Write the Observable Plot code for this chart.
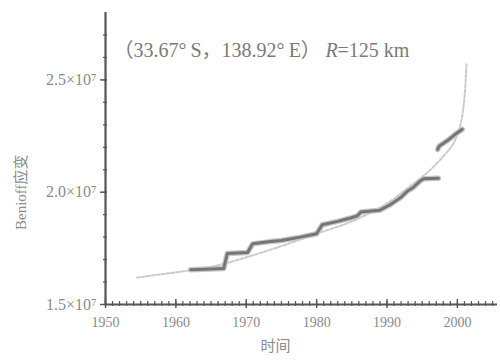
<!DOCTYPE html>
<html>
<head>
<meta charset="utf-8">
<script src="https://cdn.jsdelivr.net/npm/d3@7"></script>
<script src="https://cdn.jsdelivr.net/npm/@observablehq/plot@0.6"></script>
<style>
  html, body { margin: 0; padding: 0; background: #fff; }
  #chart svg { display: block; }
</style>
</head>
<body>
<div id="chart"></div>
<script>
// Observed cumulative Benioff strain (step-like), year / value (×10^7), segment id
const obsYears = [1962.1, 1966.8, 1967.3, 1970.2, 1970.9, 1973.4, 1975.0, 1977.7, 1980.0, 1980.8, 1983.0, 1984.8, 1985.8, 1986.3, 1989.0, 1990.5, 1991.9, 1992.9, 1993.7, 1994.7, 1995.2, 1997.3, 1997.2, 1997.4, 1998.6, 2000.0, 2000.7];
const obsValues = [1.655, 1.660, 1.727, 1.732, 1.770, 1.780, 1.785, 1.800, 1.815, 1.855, 1.870, 1.885, 1.895, 1.912, 1.920, 1.945, 1.975, 2.005, 2.020, 2.050, 2.060, 2.062, 2.190, 2.205, 2.230, 2.265, 2.280];
const obsSegment = [1, 1, 1, 1, 1, 1, 1, 1, 1, 1, 1, 1, 1, 1, 1, 1, 1, 1, 1, 1, 1, 1, 2, 2, 2, 2, 2];

// Fitted accelerating curve
const fitYears = [1954.5, 1958, 1962, 1966, 1970, 1975, 1980, 1985, 1990, 1993, 1996, 1998, 1999.5, 2000.5, 2001.0, 2001.3];
const fitValues = [1.620, 1.635, 1.652, 1.675, 1.710, 1.760, 1.815, 1.870, 1.950, 2.020, 2.095, 2.160, 2.220, 2.310, 2.420, 2.576];

const xMajor = [1950, 1960, 1970, 1980, 1990, 2000];
const xMinor = d3.range(1950, 2006, 1);
const yMajor = [1.5, 2.0, 2.5];
const yMinor = [1.5, 1.6, 1.7, 1.8, 1.9, 2.0, 2.1, 2.2, 2.3, 2.4, 2.5, 2.6, 2.7];
const yTickLabels = ["1.5×10⁷", "2.0×10⁷", "2.5×10⁷"];

const titleText = "（33.67°\u2009S，138.92°\u2009E）";
const xTitle = "时间";
const yTitle = "Benioff应变";
const yTitleAt = [{x: 1950, y: 2.0}];

const obs = obsYears.map((t, i) => ({t, v: obsValues[i], s: obsSegment[i]}));
const fit = fitYears.map((t, i) => ({t, v: fitValues[i]}));

const serif = "'Liberation Serif', 'DejaVu Serif', 'Noto Sans CJK SC', serif";
const textColor = "#8a8a8a";
const axisColor = "#555";

const chart = Plot.plot({
  width: 500,
  height: 362,
  marginLeft: 105,
  marginRight: 3,
  marginTop: 12,
  marginBottom: 58,
  style: {fontFamily: serif, background: "#fff", color: textColor},
  x: {domain: [1950, 2005.7]},
  y: {domain: [1.5, 2.8]},
  marks: [
    // minor ticks
    Plot.axisX({ticks: xMinor, tickSize: 5, dy: -3, tickFormat: () => "", label: null, stroke: axisColor, strokeWidth: 1.2}),
    Plot.axisX({ticks: xMajor, tickSize: 9, dy: -5, tickFormat: () => "", label: null, stroke: axisColor, strokeWidth: 1.4}),
    Plot.axisX({ticks: xMajor, tickSize: 0, tickPadding: 13, fontSize: 14, fill: textColor, tickFormat: d => String(d), label: null}),
    Plot.axisY({ticks: yMinor, tickSize: 4, dx: 2, tickFormat: () => "", label: null, stroke: axisColor, strokeWidth: 1.2}),
    Plot.axisY({ticks: yMajor, tickSize: 7, dx: 2, tickFormat: () => "", label: null, stroke: axisColor, strokeWidth: 1.4}),
    Plot.axisY({ticks: yMajor, tickSize: 0, tickPadding: 9, fontSize: 16, fill: textColor,
      tickFormat: d => yTickLabels[yMajor.indexOf(d)], label: null}),
    // axis lines
    Plot.ruleX([1950], {stroke: axisColor, strokeWidth: 2.2}),
    Plot.ruleY([1.5], {stroke: axisColor, strokeWidth: 2.2}),
    // fitted curve
    Plot.line(fit, {x: "t", y: "v", curve: "catmull-rom", stroke: "#cacaca", strokeWidth: 2, strokeDasharray: "3,2"}),
    // observed halo + line
    Plot.line(obs, {x: "t", y: "v", z: "s", stroke: "#c8c8c8", strokeWidth: 5.5, strokeLinejoin: "round", strokeLinecap: "round"}),
    Plot.line(obs, {x: "t", y: "v", z: "s", stroke: "#767676", strokeWidth: 3, strokeLinejoin: "round", strokeLinecap: "round"}),
    // title inside frame
    Plot.text([titleText], {frameAnchor: "top-left", dx: 8, dy: 38, lineAnchor: "middle", fontSize: 20, fill: "#7a7a7a", textAnchor: "start", fontFamily: serif}),
    Plot.text(["R"], {frameAnchor: "top-left", dx: 220, dy: 38, lineAnchor: "middle", fontSize: 20, fill: "#7a7a7a", textAnchor: "start", fontStyle: "italic", fontFamily: serif}),
    Plot.text(["=125 km"], {frameAnchor: "top-left", dx: 232, dy: 38, lineAnchor: "middle", fontSize: 20, fill: "#7a7a7a", textAnchor: "start", fontFamily: serif}),
    // axis titles
    Plot.text([xTitle], {frameAnchor: "bottom", dy: 46, dx: -26, fontSize: 15, fill: textColor}),
    Plot.text(yTitleAt, {x: "x", y: "y", text: () => yTitle, dx: -84, rotate: -90, fontSize: 15, fill: textColor})
  ]
});
document.getElementById("chart").appendChild(chart);
</script>
</body>
</html>
